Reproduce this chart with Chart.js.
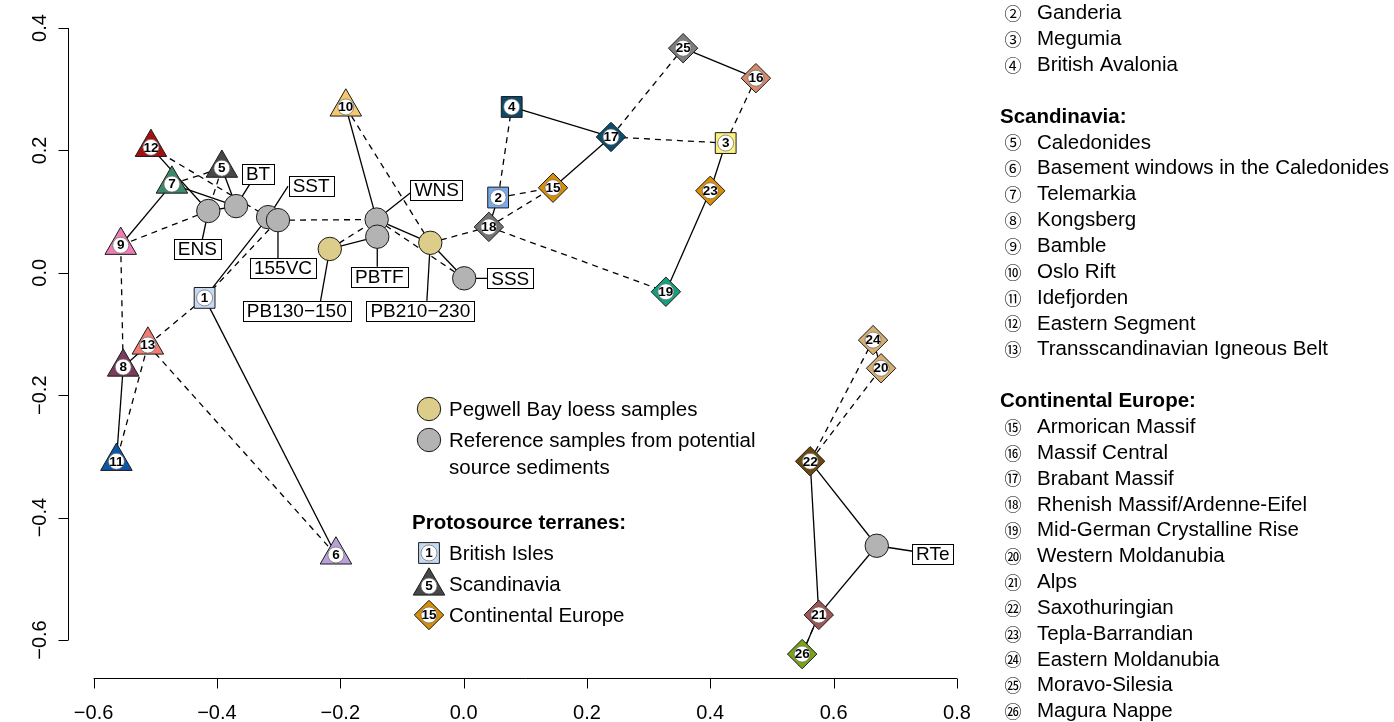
<!DOCTYPE html>
<html>
<head>
<meta charset="utf-8">
<script src="https://cdn.jsdelivr.net/npm/chart.js"></script>
<style>
  html, body { margin: 0; padding: 0; background: #fff; }
  canvas { display: block; }
</style>
</head>
<body>
<canvas id="mds" width="1394" height="722"></canvas>
<script>
// protosource terranes, numbered as in the legend
const squareIds = [1, 2, 3, 4];
const squareX = [-0.420, 0.056, 0.425, 0.078];
const squareY = [-0.041, 0.123, 0.212, 0.271];

const triangleIds = [5, 6, 7, 8, 9, 10, 11, 12, 13];
const triangleX = [-0.392, -0.207, -0.473, -0.552, -0.556, -0.191, -0.563, -0.507, -0.512];
const triangleY = [0.171, -0.461, 0.145, -0.154, 0.045, 0.271, -0.308, 0.205, -0.118];

const diamondIds = [15, 16, 17, 18, 19, 20, 21, 22, 23, 24, 25, 26];
const diamondX = [0.145, 0.474, 0.239, 0.041, 0.328, 0.677, 0.576, 0.562, 0.400, 0.664, 0.356, 0.549];
const diamondY = [0.139, 0.318, 0.222, 0.075, -0.031, -0.156, -0.559, -0.308, 0.134, -0.110, 0.367, -0.623];

// reference samples from potential source sediments
const sampleNames = ['ENS', 'BT', 'SST', '155VC', 'WNS', 'PBTF', 'SSS', 'RTe'];
const sampleX = [-0.414, -0.369, -0.317, -0.301, -0.141, -0.140, 0.001, 0.670];
const sampleY = [0.101, 0.109, 0.091, 0.086, 0.087, 0.059, -0.009, -0.446];

// Pegwell Bay loess samples
const loessNames = ['PB130−150', 'PB210−230'];
const loessX = [-0.217, -0.054];
const loessY = [0.039, 0.049];

// nearest neighbours (solid) and second nearest neighbours (dashed)
const nearestPairs = [
  ['1', '6'], ['1', 'SST'], ['12', 'ENS'], ['5', 'BT'], ['7', '9'], ['7', 'BT'],
  ['ENS', 'BT'], ['SST', '155VC'], ['10', 'WNS'], ['WNS', 'PBTF'], ['PB130−150', 'PBTF'],
  ['WNS', 'PB210−230'], ['PB210−230', 'SSS'], ['4', '17'], ['17', '15'], ['25', '16'],
  ['3', '23'], ['23', '19'], ['2', '18'], ['8', '11'], ['8', '13'], ['22', '21'],
  ['22', 'RTe'], ['RTe', '21'], ['21', '26'], ['24', '20']
];
const secondPairs = [
  ['12', 'SST'], ['5', 'ENS'], ['7', '5'], ['9', 'ENS'], ['9', '8'], ['13', '11'],
  ['13', '1'], ['13', '6'], ['1', '155VC'], ['155VC', 'WNS'], ['10', 'PB210−230'],
  ['PB130−150', 'WNS'], ['WNS', 'SSS'], ['PB210−230', '18'], ['18', '15'], ['18', '19'],
  ['2', '15'], ['2', '4'], ['17', '25'], ['17', '3'], ['3', '16'], ['22', '24'],
  ['22', '20'], ['26', '21']
];

const xTicks = [-0.6, -0.4, -0.2, 0.0, 0.2, 0.4, 0.6, 0.8];
const yTicks = [-0.6, -0.4, -0.2, 0.0, 0.2, 0.4];

// legend on the right
const legendGroups = [
  { title: null, ids: [2, 3, 4], names: ['Ganderia', 'Megumia', 'British Avalonia'] },
  { title: 'Scandinavia:', ids: [5, 6, 7, 8, 9, 10, 11, 12, 13],
    names: ['Caledonides', 'Basement windows in the Caledonides', 'Telemarkia', 'Kongsberg', 'Bamble',
            'Oslo Rift', 'Idefjorden', 'Eastern Segment', 'Transscandinavian Igneous Belt'] },
  { title: 'Continental Europe:', ids: [15, 16, 17, 18, 19, 20, 21, 22, 23, 24, 25, 26],
    names: ['Armorican Massif', 'Massif Central', 'Brabant Massif', 'Rhenish Massif/Ardenne-Eifel',
            'Mid-German Crystalline Rise', 'Western Moldanubia', 'Alps', 'Saxothuringian',
            'Tepla-Barrandian', 'Eastern Moldanubia', 'Moravo-Silesia', 'Magura Nappe'] }
];

// colours of the terranes
const terraneColors = {
  1: '#C7DAF5', 2: '#78AAEE', 3: '#FBF27C', 4: '#0B4A6D',
  5: '#474747', 6: '#B9A1D7', 7: '#3D8A6A', 8: '#7A3B5D', 9: '#EE7DB5', 10: '#F6C76F',
  11: '#0C56A6', 12: '#A41010', 13: '#F27C72',
  15: '#D88E05', 16: '#D48A6B', 17: '#0B4D6E', 18: '#737373', 19: '#14A07F', 20: '#D6AE71',
  21: '#A15656', 22: '#6B490D', 23: '#D88E05', 24: '#D6AE71', 25: '#7E7E7E', 26: '#7BA21B'
};
const GREY = '#B3B3B3';
const TAN = '#DDCD8A';
const EDGE = '#1a1a1a';
const FONT = '"Liberation Sans", Arial, Helvetica, sans-serif';

// where the boxed sample labels sit: box centre and end of the tether, px from the point
const labelPlace = {
  'ENS': [-11, 38, -8, 38], 'BT': [22, -32, 20, -32], 'SST': [43, -31, 20, -31],
  '155VC': [5, 48, 0, 48], 'WNS': [60, -30, 38, -30], 'PBTF': [2, 40, 0, 40],
  'SSS': [46, 0, 46, 0], 'RTe': [56, 8.5, 56, 8.5],
  'PB130−150': [-33, 62, -11, 62], 'PB210−230': [-10, 68, -4, 68]
};

function pts(xs, ys) { return xs.map((x, i) => ({ x: x, y: ys[i] })); }

// lookup of every point by its name
const pos = {};
[[squareIds, squareX, squareY], [triangleIds, triangleX, triangleY], [diamondIds, diamondX, diamondY],
 [sampleNames, sampleX, sampleY], [loessNames, loessX, loessY]].forEach(g => {
  g[0].forEach((n, i) => { pos[String(n)] = { x: g[1][i], y: g[2][i] }; });
});

function markerSet(label, xs, ys, style, r, colors) {
  return {
    label: label, data: pts(xs, ys), order: 0,
    pointStyle: style, pointRadius: r, pointHoverRadius: r,
    pointBackgroundColor: colors, pointBorderColor: EDGE, pointBorderWidth: 1
  };
}

const datasets = [
  markerSet('samples', sampleX, sampleY, 'circle', 11.7, GREY),
  markerSet('loess', loessX, loessY, 'circle', 11.7, TAN),
  markerSet('squares', squareX, squareY, 'rect', 14.7, squareIds.map(i => terraneColors[i])),
  markerSet('triangles', triangleX, triangleY, 'triangle', 18.2, triangleIds.map(i => terraneColors[i])),
  markerSet('diamonds', diamondX, diamondY, 'rectRot', 14.7, diamondIds.map(i => terraneColors[i]))
];
nearestPairs.forEach(p => datasets.push({
  data: [pos[p[0]], pos[p[1]]], showLine: true, pointRadius: 0, order: 1,
  borderColor: '#000', borderWidth: 1.3
}));
secondPairs.forEach(p => datasets.push({
  data: [pos[p[0]], pos[p[1]]], showLine: true, pointRadius: 0, order: 1,
  borderColor: '#000', borderWidth: 1.3, borderDash: [6, 5]
}));

// small copy of the marker shapes for the legend
function shape(ctx, style, x, y, fill) {
  ctx.save();
  ctx.beginPath();
  if (style === 'circle') {
    ctx.arc(x, y, 11.7, 0, Math.PI * 2);
  } else if (style === 'rect') {
    ctx.rect(x - 10.4, y - 10.4, 20.8, 20.8);
  } else if (style === 'triangle') {
    const r = 18.2;
    ctx.moveTo(x, y - r);
    ctx.lineTo(x + r * Math.sin(2 * Math.PI / 3), y + r / 2);
    ctx.lineTo(x - r * Math.sin(2 * Math.PI / 3), y + r / 2);
    ctx.closePath();
  } else {
    ctx.moveTo(x, y - 14.7); ctx.lineTo(x + 14.7, y); ctx.lineTo(x, y + 14.7); ctx.lineTo(x - 14.7, y);
    ctx.closePath();
  }
  ctx.fillStyle = fill; ctx.fill();
  ctx.strokeStyle = EDGE; ctx.lineWidth = 1; ctx.stroke();
  ctx.restore();
}

function badge(ctx, id, x, y) {
  ctx.save();
  ctx.beginPath();
  ctx.arc(x, y, 8, 0, Math.PI * 2);
  ctx.fillStyle = '#fff'; ctx.fill();
  ctx.strokeStyle = '#666'; ctx.lineWidth = 0.7; ctx.stroke();
  ctx.fillStyle = '#000';
  ctx.font = 'bold 13.5px ' + FONT;
  ctx.textAlign = 'center'; ctx.textBaseline = 'middle';
  ctx.fillText(String(id), x, y + 0.5, 15.5);
  ctx.restore();
}

function circled(n) {
  return n <= 20 ? String.fromCharCode(0x2460 + n - 1) : String.fromCharCode(0x3251 + n - 21);
}

function fmt(v) { return v.toFixed(1).replace('-', '−'); }

const overlay = {
  id: 'overlay',
  beforeDatasetsDraw(chart) {
    const ctx = chart.ctx;
    ctx.save();
    ctx.strokeStyle = '#000'; ctx.lineWidth = 1.3;
    [0, 1].forEach(di => {
      const names = di === 0 ? sampleNames : loessNames;
      chart.getDatasetMeta(di).data.forEach((el, i) => {
        const lp = labelPlace[names[i]];
        ctx.beginPath();
        ctx.moveTo(el.x, el.y);
        ctx.lineTo(el.x + lp[2], el.y + lp[3]);
        ctx.stroke();
      });
    });
    ctx.restore();
  },
  afterDatasetsDraw(chart) {
    const ctx = chart.ctx;
    [[2, squareIds], [3, triangleIds], [4, diamondIds]].forEach(g => {
      chart.getDatasetMeta(g[0]).data.forEach((el, i) => badge(ctx, g[1][i], el.x, el.y));
    });
    ctx.save();
    ctx.font = '19px ' + FONT;
    ctx.textAlign = 'center'; ctx.textBaseline = 'middle';
    [0, 1].forEach(di => {
      const names = di === 0 ? sampleNames : loessNames;
      chart.getDatasetMeta(di).data.forEach((el, i) => {
        const lp = labelPlace[names[i]];
        const cx = el.x + lp[0], cy = el.y + lp[1];
        const w = ctx.measureText(names[i]).width + 8, h = 20;
        ctx.fillStyle = '#fff';
        ctx.fillRect(cx - w / 2, cy - h / 2, w, h);
        ctx.strokeStyle = '#000'; ctx.lineWidth = 1;
        ctx.strokeRect(Math.round(cx - w / 2) + 0.5, Math.round(cy - h / 2) + 0.5, Math.round(w), h);
        ctx.fillStyle = '#000';
        ctx.fillText(names[i], cx, cy + 1);
      });
    });
    ctx.restore();
  },
  afterDraw(chart) {
    const ctx = chart.ctx;
    const xs = chart.scales.x, ys = chart.scales.y, area = chart.chartArea;
    ctx.save();
    ctx.strokeStyle = '#000'; ctx.lineWidth = 1; ctx.fillStyle = '#000';
    ctx.font = '20px ' + FONT;
    // x axis
    const ay = Math.round(area.bottom) + 0.5;
    ctx.beginPath();
    ctx.moveTo(xs.getPixelForValue(xTicks[0]), ay);
    ctx.lineTo(xs.getPixelForValue(xTicks[xTicks.length - 1]), ay);
    xTicks.forEach(t => {
      const px = Math.round(xs.getPixelForValue(t)) + 0.5;
      ctx.moveTo(px, ay); ctx.lineTo(px, ay + 10);
    });
    ctx.stroke();
    ctx.textAlign = 'center'; ctx.textBaseline = 'middle';
    xTicks.forEach(t => ctx.fillText(fmt(t), xs.getPixelForValue(t), 713));
    // y axis
    const ax = Math.round(area.left) + 0.5;
    ctx.beginPath();
    ctx.moveTo(ax, ys.getPixelForValue(yTicks[0]));
    ctx.lineTo(ax, ys.getPixelForValue(yTicks[yTicks.length - 1]));
    yTicks.forEach(t => {
      const py = Math.round(ys.getPixelForValue(t)) + 0.5;
      ctx.moveTo(ax, py); ctx.lineTo(ax - 10, py);
    });
    ctx.stroke();
    yTicks.forEach(t => {
      ctx.save();
      ctx.translate(ax - 28, ys.getPixelForValue(t));
      ctx.rotate(-Math.PI / 2);
      ctx.fillText(fmt(t), 0, 0);
      ctx.restore();
    });

    // legend inside the plot
    ctx.font = '20.5px ' + FONT;
    ctx.textAlign = 'left';
    shape(ctx, 'circle', 429, 409, TAN);
    ctx.fillText('Pegwell Bay loess samples', 449, 410);
    shape(ctx, 'circle', 429, 440, GREY);
    ctx.fillText('Reference samples from potential', 449, 441);
    ctx.fillText('source sediments', 449, 468);
    ctx.font = 'bold 20.5px ' + FONT;
    ctx.fillText('Protosource terranes:', 412, 523);
    ctx.font = '20.5px ' + FONT;
    shape(ctx, 'rect', 429, 553, terraneColors[1]); badge(ctx, 1, 429, 553);
    ctx.fillText('British Isles', 449, 554);
    shape(ctx, 'triangle', 429, 586, terraneColors[5]); badge(ctx, 5, 429, 586);
    ctx.fillText('Scandinavia', 449, 585);
    shape(ctx, 'diamond', 429, 615, terraneColors[15]); badge(ctx, 15, 429, 615);
    ctx.fillText('Continental Europe', 449, 616);

    // legend on the right
    let row = 0;
    const rowY = r => 12.7 + r * 25.85;
    legendGroups.forEach((g, gi) => {
      if (gi > 0) row++;
      if (g.title) {
        ctx.font = 'bold 20.5px ' + FONT;
        ctx.textAlign = 'left';
        ctx.fillText(g.title, 1000, rowY(row) + 1);
        row++;
      }
      g.ids.forEach((id, i) => {
        const y = rowY(row);
        ctx.font = '17px "Noto Sans CJK JP", "DejaVu Sans", sans-serif';
        ctx.textAlign = 'center';
        ctx.fillText(circled(id), 1013, y + 1);
        ctx.font = '20.5px ' + FONT;
        ctx.textAlign = 'left';
        ctx.fillText(g.names[i], 1037, y + 1);
        row++;
      });
    });
    ctx.restore();
  }
};

new Chart(document.getElementById('mds'), {
  type: 'scatter',
  data: { datasets: datasets },
  options: {
    responsive: false,
    animation: false,
    events: [],
    devicePixelRatio: 1,
    layout: { autoPadding: false, padding: { left: 68, right: 1394 - 985, top: 5, bottom: 722 - 678 } },
    scales: {
      x: { type: 'linear', min: -0.6415, max: 0.8455, display: false },
      y: { type: 'linear', min: -0.6621, max: 0.4376, display: false }
    },
    plugins: { legend: { display: false }, tooltip: { enabled: false } }
  },
  plugins: [overlay]
});
</script>
</body>
</html>
